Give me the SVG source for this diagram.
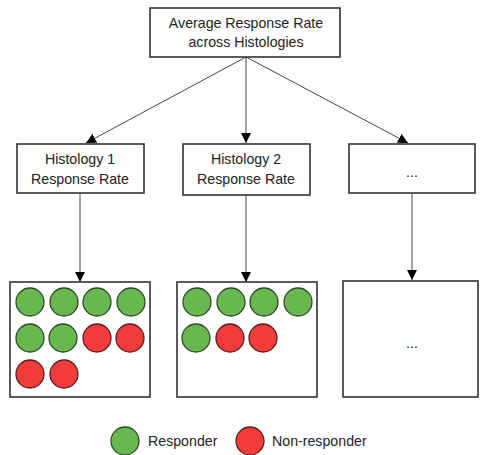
<svg xmlns="http://www.w3.org/2000/svg" width="480" height="455" viewBox="0 0 480 455">
<style>
.box{fill:#fff;stroke:#333;stroke-width:1.6}
.t{font-family:"Liberation Sans",Arial,sans-serif;font-size:14.2px;fill:#222;text-anchor:middle}
.lt{font-family:"Liberation Sans",Arial,sans-serif;font-size:14.2px;fill:#222}
.g{fill:#67b84f;stroke:#2f4a28;stroke-width:1.3}
.r{fill:#f23b3b;stroke:#5a1e1e;stroke-width:1.3}
.c{stroke:#444;stroke-width:1;fill:none;marker-end:url(#ah)}
</style>
<defs>
<marker id="ah" markerWidth="11" markerHeight="11" refX="10" refY="5" orient="auto" markerUnits="userSpaceOnUse">
<path d="M0,0 L10,5 L0,10 z" fill="#000"/>
</marker>
</defs>
<rect width="480" height="455" fill="#fff"/>
<g id="connectors">
<line class="c" x1="246" y1="57" x2="86" y2="143"/>
<line class="c" x1="246" y1="57" x2="246" y2="143"/>
<line class="c" x1="246" y1="57" x2="408" y2="143"/>
<line class="c" x1="80" y1="194" x2="80" y2="282"/>
<line class="c" x1="246" y1="195" x2="246" y2="282"/>
<line class="c" x1="412" y1="194" x2="412" y2="280"/>
</g>
<g id="top">
<rect class="box" x="150" y="8" width="190" height="49"/>
<text class="t" x="246" y="28">Average Response Rate</text>
<text class="t" x="246" y="47">across Histologies</text>
</g>
<g id="h1">
<rect class="box" x="17" y="144" width="127" height="49"/>
<text class="t" x="80" y="164">Histology 1</text>
<text class="t" x="80" y="184">Response Rate</text>
</g>
<g id="h2">
<rect class="box" x="183" y="144" width="127" height="51"/>
<text class="t" x="246" y="164">Histology 2</text>
<text class="t" x="246" y="184">Response Rate</text>
</g>
<g id="h3">
<rect class="box" x="349" y="144" width="126" height="49"/>
<text class="t" x="412" y="177">...</text>
</g>
<g id="b1">
<rect class="box" x="10" y="282" width="140" height="115"/>
<circle class="g" cx="30" cy="302" r="14"/>
<circle class="g" cx="64" cy="302" r="14"/>
<circle class="g" cx="97" cy="302" r="14"/>
<circle class="g" cx="131" cy="302" r="14"/>
<circle class="g" cx="30" cy="338" r="14"/>
<circle class="g" cx="63" cy="338" r="14"/>
<circle class="r" cx="97" cy="338" r="14"/>
<circle class="r" cx="130" cy="338" r="14"/>
<circle class="r" cx="30" cy="374" r="14"/>
<circle class="r" cx="64" cy="374" r="14"/>
</g>
<g id="b2">
<rect class="box" x="177" y="282" width="140" height="115"/>
<circle class="g" cx="197" cy="302" r="14"/>
<circle class="g" cx="231" cy="302" r="14"/>
<circle class="g" cx="264" cy="302" r="14"/>
<circle class="g" cx="298" cy="302" r="14"/>
<circle class="g" cx="196" cy="338" r="14"/>
<circle class="r" cx="230" cy="338" r="14"/>
<circle class="r" cx="263" cy="338" r="14"/>
</g>
<g id="b3">
<rect class="box" x="343" y="281" width="135" height="116"/>
<text class="t" x="412" y="348">...</text>
</g>
<g id="legend">
<circle class="g" cx="125" cy="441" r="14"/>
<text class="lt" x="148" y="446">Responder</text>
<circle class="r" cx="250" cy="441" r="14"/>
<text class="lt" x="272" y="446">Non-responder</text>
</g>
</svg>
